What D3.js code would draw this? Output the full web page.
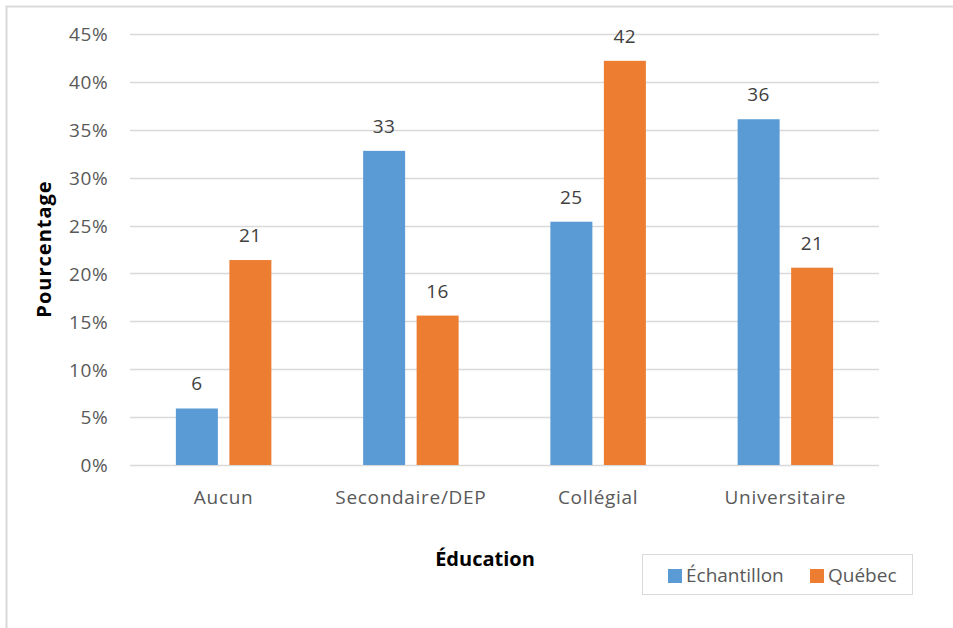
<!DOCTYPE html>
<html>
<head>
<meta charset="utf-8">
<script src="https://cdn.jsdelivr.net/npm/d3@7"></script>
<style>
  html, body { margin: 0; padding: 0; background: #fff; }
  svg { display: block; }
  text { font-family: "Open Sans", "Noto Sans", sans-serif; }
</style>
</head>
<body>
<svg id="chart" width="953" height="628"></svg>
<script>
// Niveau de scolarité : échantillon vs population du Québec (%)
const categories = ["Aucun", "Secondaire/DEP", "Collégial", "Universitaire"];
const seriesNames = ["Échantillon", "Québec"];
const echantillon = [5.9, 32.8, 25.4, 36.1];
const quebec = [21.4, 15.6, 42.2, 20.6];
const yTicks = [0, 5, 10, 15, 20, 25, 30, 35, 40, 45];
const colors = ["#5B9BD5", "#ED7D31"];

const seriesValues = [echantillon, quebec];
const rows = categories.map((c, i) => ({
  category: c,
  values: seriesNames.map((s, j) => ({ series: s, value: seriesValues[j][i], idx: j }))
}));

const svg = d3.select("#chart");

// Cadre du graphique
svg.append("rect")
  .attr("x", 6.5).attr("y", 6.5)
  .attr("width", 960).attr("height", 640)
  .attr("fill", "#fff")
  .attr("stroke", "#D9D9D9").attr("stroke-width", 2);

const plot = { left: 130, right: 879, top: 34, bottom: 465 };

const y = d3.scaleLinear().domain([0, 45]).range([plot.bottom, plot.top]);
const x0 = d3.scaleBand().domain(categories)
  .range([plot.left, plot.right])
  .paddingInner(0.49).paddingOuter(0.245);
const x1 = d3.scaleBand().domain(seriesNames)
  .range([0, x0.bandwidth()])
  .paddingInner(0.215);

// Quadrillage horizontal
svg.append("g")
  .selectAll("line")
  .data(yTicks)
  .join("line")
  .attr("x1", plot.left).attr("x2", plot.right)
  .attr("y1", d => Math.round(y(d)) + 0.5)
  .attr("y2", d => Math.round(y(d)) + 0.5)
  .attr("stroke", "#D9D9D9").attr("stroke-width", 1.3);

// Axe Y
const yAxis = d3.axisLeft(y).tickValues(yTicks).tickFormat(d => d + "%").tickSize(0).tickPadding(0);
const gy = svg.append("g").attr("transform", `translate(108.5,0)`).call(yAxis);
gy.select(".domain").remove();
gy.selectAll("text")
  .attr("fill", "#595959")
  .style("font-size", "19px")
  .style("letter-spacing", "0.7px")
  .attr("dy", "0.36em");

// Barres
const groups = svg.append("g")
  .selectAll("g")
  .data(rows)
  .join("g")
  .attr("transform", d => `translate(${x0(d.category)},0)`);

groups.selectAll("rect")
  .data(d => d.values)
  .join("rect")
  .attr("x", d => x1(d.series))
  .attr("y", d => y(d.value))
  .attr("width", x1.bandwidth())
  .attr("height", d => y(0) - y(d.value))
  .attr("fill", d => colors[d.idx]);

// Étiquettes de valeurs
const fmt = d3.format(".0f");
groups.selectAll("text.val")
  .data(d => d.values)
  .join("text")
  .attr("class", "val")
  .attr("x", d => x1(d.series) + x1.bandwidth() / 2)
  .attr("y", d => y(d.value) - 18)
  .attr("text-anchor", "middle")
  .attr("fill", "#404040")
  .style("font-size", "19px")
  .style("letter-spacing", "0.4px")
  .text(d => fmt(d.value));

// Axe X (libellés de catégories)
const xAxis = d3.axisBottom(x0).tickSize(0).tickPadding(0);
const gx = svg.append("g").attr("transform", `translate(0,${plot.bottom})`).call(xAxis);
gx.select(".domain").remove();
gx.selectAll("text")
  .attr("fill", "#595959")
  .attr("dy", "0")
  .attr("y", 39)
  .style("font-size", "19px")
  .style("letter-spacing", "0.7px");

// Titres des axes
svg.append("text")
  .attr("x", 485).attr("y", 566)
  .attr("text-anchor", "middle")
  .attr("fill", "#000")
  .style("font-size", "20px").style("font-weight", "bold")
  .text("Éducation");

svg.append("text")
  .attr("transform", "translate(51,249) rotate(-90)")
  .attr("text-anchor", "middle")
  .attr("fill", "#000")
  .style("font-size", "20px").style("font-weight", "bold")
  .style("letter-spacing", "1px")
  .text("Pourcentage");

// Légende
const legend = svg.append("g");
legend.append("rect")
  .attr("x", 642.5).attr("y", 554.5)
  .attr("width", 270).attr("height", 40)
  .attr("fill", "#fff").attr("stroke", "#D9D9D9").attr("stroke-width", 1);

const legendX = [668, 810];
seriesNames.forEach((s, i) => {
  legend.append("rect")
    .attr("x", legendX[i]).attr("y", 569)
    .attr("width", 14).attr("height", 14)
    .attr("fill", colors[i]);
  legend.append("text")
    .attr("x", legendX[i] + 18).attr("y", 582)
    .attr("fill", "#595959")
    .style("font-size", "19px")
    .text(s);
});
</script>
</body>
</html>
